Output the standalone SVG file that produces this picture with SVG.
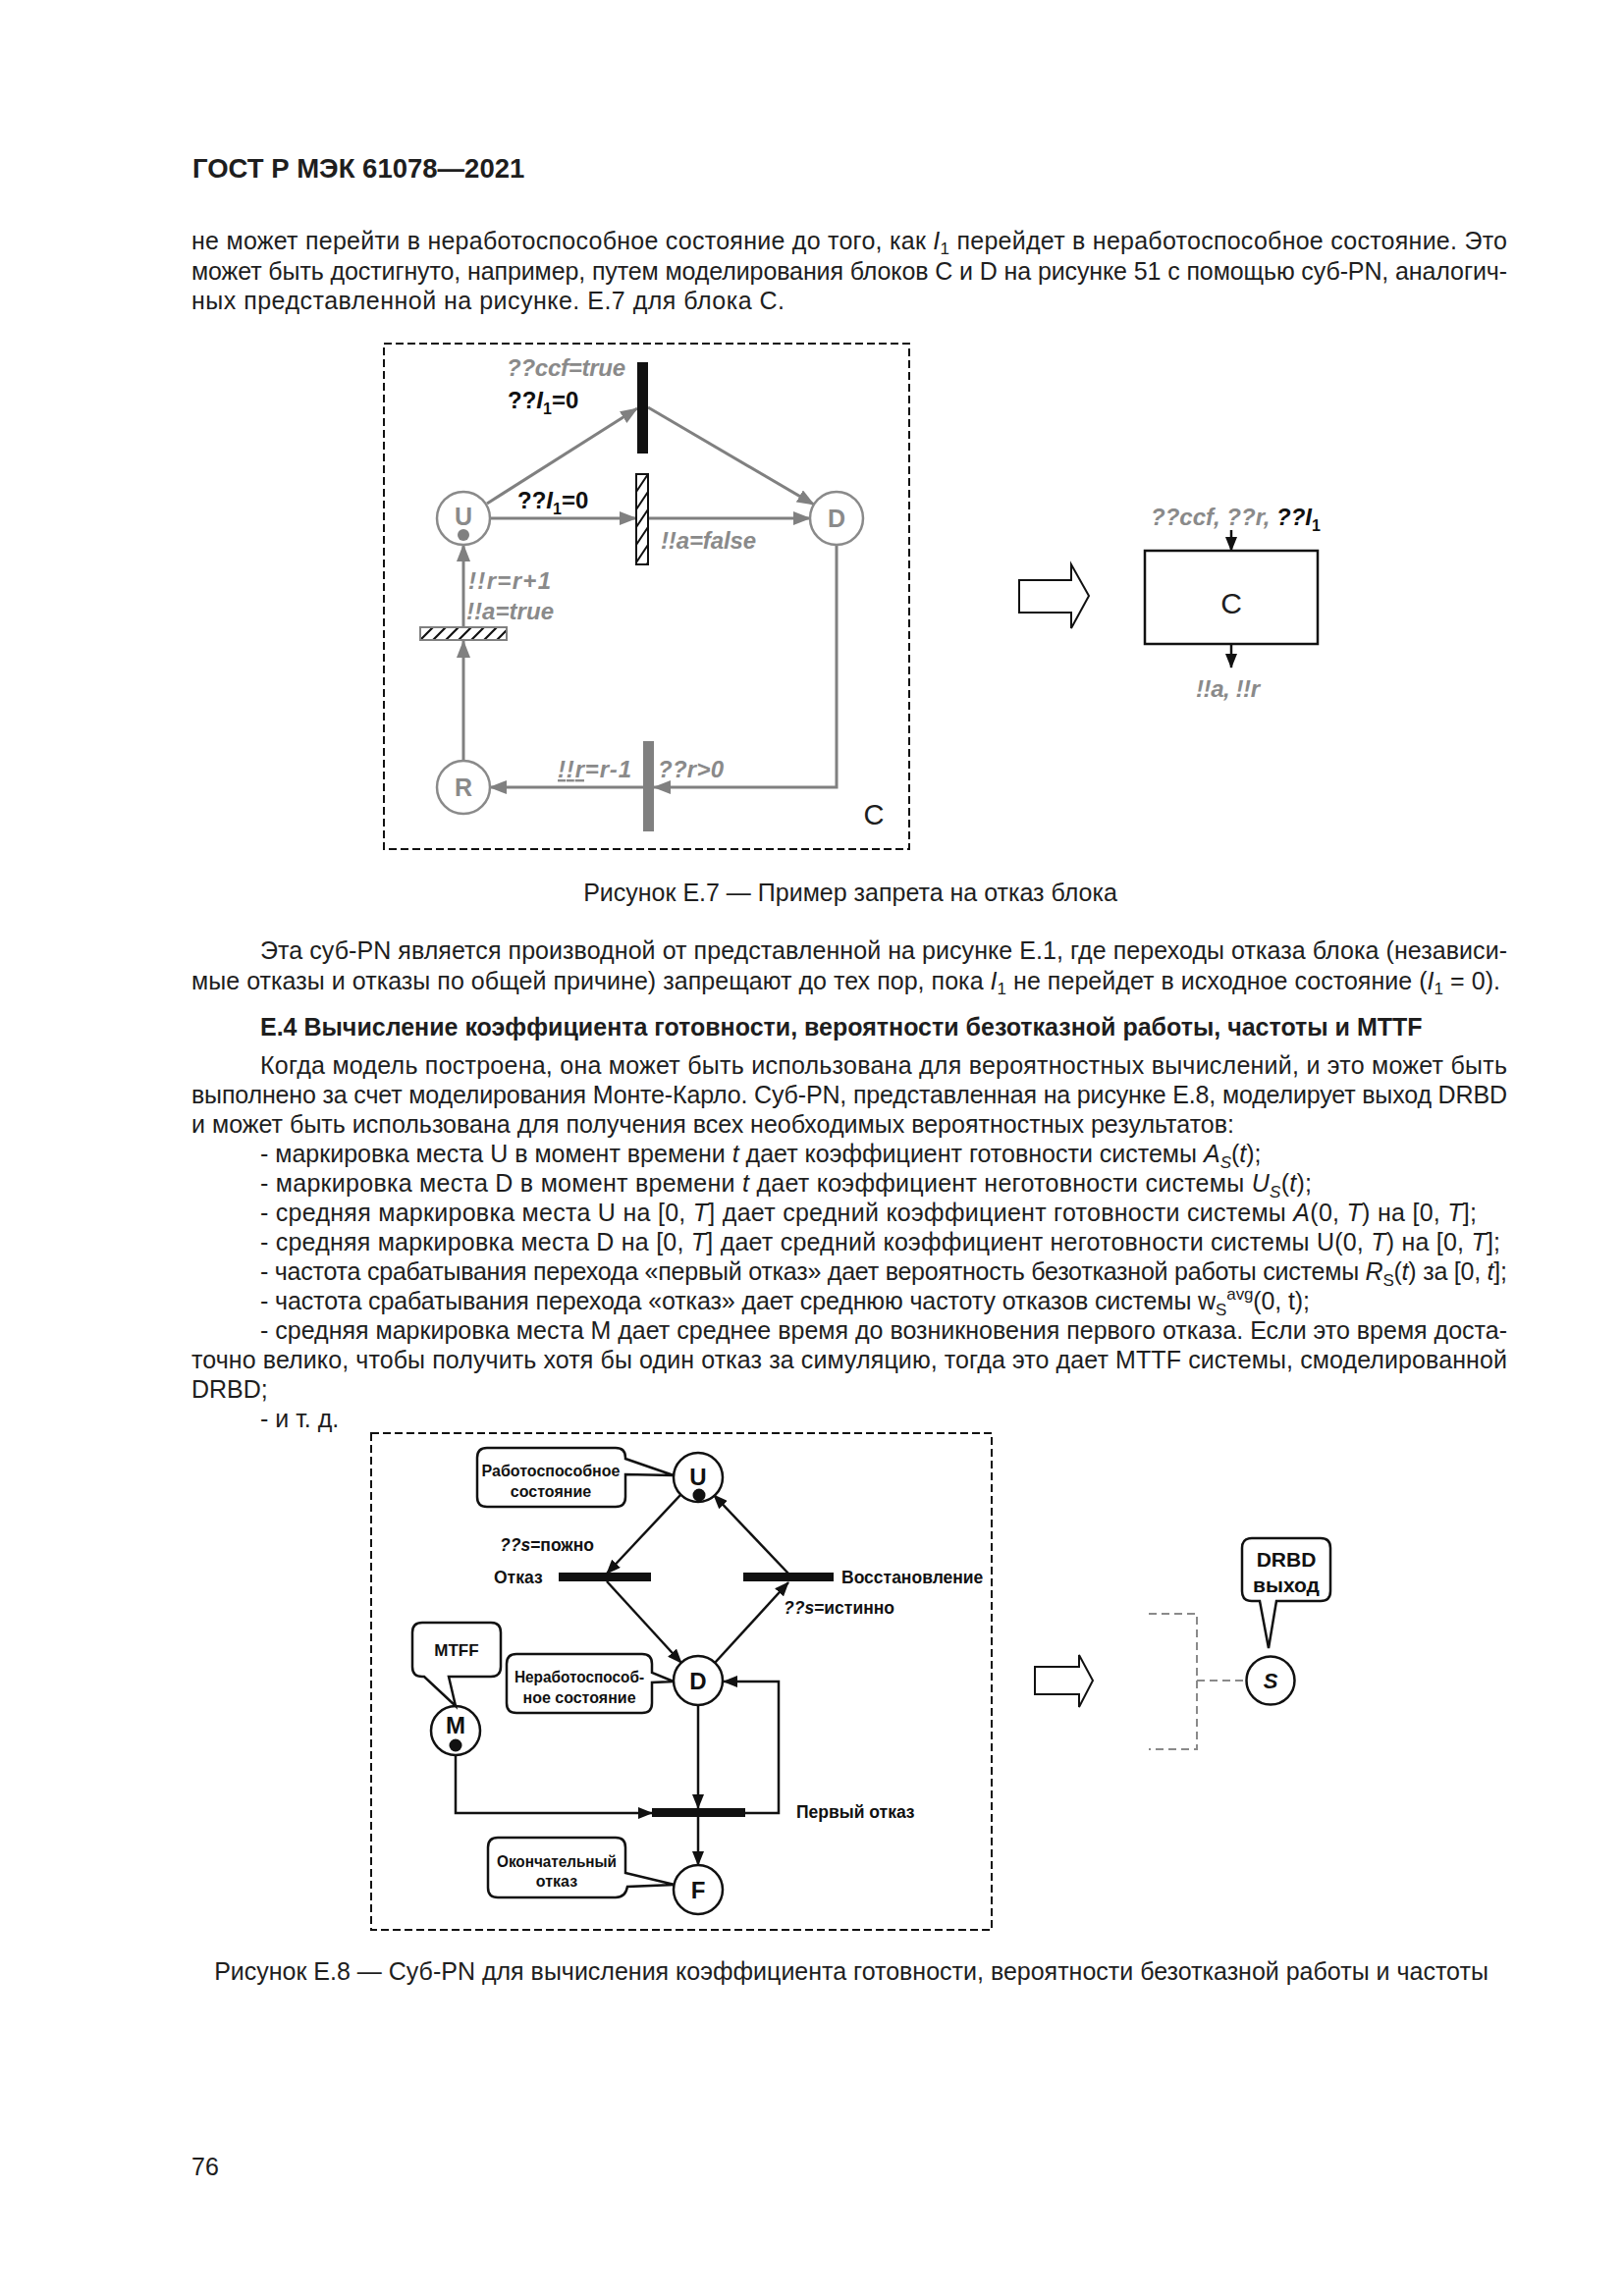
<svg xmlns="http://www.w3.org/2000/svg" width="1654" height="2339" viewBox="0 0 1654 2339">
<style>
.t{font-family:"Liberation Sans",Arial,sans-serif;font-size:25px;fill:#1e1e1e}
.b{font-weight:bold}
.i{font-style:italic}
.gl{font-family:"Liberation Sans",Arial,sans-serif;font-size:24px;font-style:italic;font-weight:bold;fill:#8a8a8a}
.kl{font-family:"Liberation Sans",Arial,sans-serif;font-size:24px;font-weight:bold;fill:#111}
.gs{fill:none;stroke:#808080;stroke-width:3}
.bs{fill:none;stroke:#111;stroke-width:2.5}
.gc{fill:#fff;stroke:#8a8a8a;stroke-width:2.5}
.bc{fill:#fff;stroke:#111;stroke-width:2.5}
.gn{font-family:"Liberation Sans",Arial,sans-serif;font-size:25px;font-weight:bold;fill:#8a8a8a;text-anchor:middle}
.nl{font-family:"Liberation Sans",Arial,sans-serif;font-size:24px;font-weight:bold;fill:#111;text-anchor:middle}
.e8{font-family:"Liberation Sans",Arial,sans-serif;font-size:17.5px;font-weight:bold;fill:#111}
.cl{font-family:"Liberation Sans",Arial,sans-serif;font-size:16px;font-weight:bold;fill:#111;text-anchor:middle}
.dash{fill:none;stroke:#111;stroke-width:2;stroke-dasharray:8 4}
.gdash{fill:none;stroke:#8a8a8a;stroke-width:2;stroke-dasharray:8 5}
</style>
<defs>
<marker id="ag" markerWidth="18" markerHeight="14" refX="17" refY="7" orient="auto" markerUnits="userSpaceOnUse"><path d="M0,0 L18,7 L0,14 z" fill="#808080"/></marker>
<marker id="ab" markerWidth="15" markerHeight="12" refX="14" refY="6" orient="auto" markerUnits="userSpaceOnUse"><path d="M0,0 L15,6 L0,12 z" fill="#111"/></marker>
<pattern id="hv" patternUnits="userSpaceOnUse" x="648" y="483" width="12" height="18"><rect width="12" height="18" fill="#fff"/><path d="M0,18 L12,0 M-2,3 L2,-3 M10,21 L14,15" stroke="#111" stroke-width="2"/></pattern>
<pattern id="hh" patternUnits="userSpaceOnUse" x="428" y="639" width="13" height="13"><rect width="13" height="13" fill="#fff"/><path d="M0,13 L13,0 M-2,2 L2,-2 M11,15 L15,11" stroke="#111" stroke-width="2.2"/></pattern>
</defs>
<rect width="1654" height="2339" fill="#fff"/>

<g id="page-text">
<text class="t b" x="196" y="181" style="font-size:27.5px">ГОСТ Р МЭК 61078—2021</text>
<text class="t" x="195" y="254" textLength="1340" lengthAdjust="spacing">не может перейти в неработоспособное состояние до того, как <tspan class="i">I</tspan><tspan font-size="17" dy="5">1</tspan><tspan dy="-5"> перейдет в неработоспособное состояние. Это</tspan></text>
<text class="t" x="195" y="285" textLength="1340" lengthAdjust="spacing">может быть достигнуто, например, путем моделирования блоков С и D на рисунке 51 с помощью суб-PN, аналогич-</text>
<text class="t" x="195" y="315" textLength="604" lengthAdjust="spacing">ных представленной на рисунке. Е.7 для блока С.</text>
<text class="t" x="866" y="918" text-anchor="middle">Рисунок Е.7 — Пример запрета на отказ блока</text>
<text class="t" x="265" y="977" textLength="1270" lengthAdjust="spacing">Эта суб-PN является производной от представленной на рисунке Е.1, где переходы отказа блока (независи-</text>
<text class="t" x="195" y="1008" textLength="1333" lengthAdjust="spacing">мые отказы и отказы по общей причине) запрещают до тех пор, пока <tspan class="i">I</tspan><tspan font-size="17" dy="5">1</tspan><tspan dy="-5"> не перейдет в исходное состояние (</tspan><tspan class="i">I</tspan><tspan font-size="17" dy="5">1</tspan><tspan dy="-5"> = 0).</tspan></text>
<text class="t b" x="265" y="1055">Е.4 Вычисление коэффициента готовности, вероятности безотказной работы, частоты и MTTF</text>
<text class="t" x="265" y="1094" textLength="1270" lengthAdjust="spacing">Когда модель построена, она может быть использована для вероятностных вычислений, и это может быть</text>
<text class="t" x="195" y="1124" textLength="1340" lengthAdjust="spacing">выполнено за счет моделирования Монте-Карло. Суб-PN, представленная на рисунке Е.8, моделирует выход DRBD</text>
<text class="t" x="195" y="1154" textLength="1062" lengthAdjust="spacing">и может быть использована для получения всех необходимых вероятностных результатов:</text>
<text class="t" x="265" y="1184">- маркировка места U в момент времени <tspan class="i">t</tspan> дает коэффициент готовности системы <tspan class="i">A</tspan><tspan class="i" font-size="17" dy="6">S</tspan><tspan dy="-6">(</tspan><tspan class="i">t</tspan>);</text>
<text class="t" x="265" y="1214" textLength="1071" lengthAdjust="spacing">- маркировка места D в момент времени <tspan class="i">t</tspan> дает коэффициент неготовности системы <tspan class="i">U</tspan><tspan class="i" font-size="17" dy="6">S</tspan><tspan dy="-6">(</tspan><tspan class="i">t</tspan>);</text>
<text class="t" x="265" y="1244" textLength="1239" lengthAdjust="spacing">- средняя маркировка места U на [0, <tspan class="i">T</tspan>] дает средний коэффициент готовности системы <tspan class="i">A</tspan>(0, <tspan class="i">T</tspan>) на [0, <tspan class="i">T</tspan>];</text>
<text class="t" x="265" y="1274" textLength="1263" lengthAdjust="spacing">- средняя маркировка места D на [0, <tspan class="i">T</tspan>] дает средний коэффициент неготовности системы U(0, <tspan class="i">T</tspan>) на [0, <tspan class="i">T</tspan>];</text>
<text class="t" x="265" y="1304" textLength="1270" lengthAdjust="spacing">- частота срабатывания перехода «первый отказ» дает вероятность безотказной работы системы <tspan class="i">R</tspan><tspan font-size="17" dy="6">S</tspan><tspan dy="-6">(</tspan><tspan class="i">t</tspan>) за [0, <tspan class="i">t</tspan>];</text>
<text class="t" x="265" y="1334" textLength="1069" lengthAdjust="spacing">- частота срабатывания перехода «отказ» дает среднюю частоту отказов системы w<tspan font-size="17" dy="6">S</tspan><tspan font-size="17" dy="-16">avg</tspan><tspan dy="10">(0, t);</tspan></text>
<text class="t" x="265" y="1364" textLength="1270" lengthAdjust="spacing">- средняя маркировка места M дает среднее время до возникновения первого отказа. Если это время доста-</text>
<text class="t" x="195" y="1394" textLength="1340" lengthAdjust="spacing">точно велико, чтобы получить хотя бы один отказ за симуляцию, тогда это дает MTTF системы, смоделированной</text>
<text class="t" x="195" y="1424">DRBD;</text>
<text class="t" x="265" y="1454">- и т. д.</text>
<text class="t" x="867" y="2017" text-anchor="middle">Рисунок Е.8 — Суб-PN для вычисления коэффициента готовности, вероятности безотказной работы и частоты</text>
<text class="t" x="195" y="2216">76</text>
</g>

<!-- ===== Figure E.7 ===== -->
<g id="e7-frame">
<rect class="dash" x="391" y="350" width="535" height="515"/>
<text class="t" x="890" y="840" text-anchor="middle" style="font-size:29px">C</text>
</g>
<g id="e7-connectors">
<line class="gs" x1="496" y1="513" x2="649" y2="416" marker-end="url(#ag)"/>
<line class="gs" x1="660" y1="415" x2="829" y2="514" marker-end="url(#ag)"/>
<line class="gs" x1="499" y1="528" x2="648" y2="528" marker-end="url(#ag)"/>
<line class="gs" x1="660" y1="528" x2="825" y2="528" marker-end="url(#ag)"/>
<polyline class="gs" points="852,555 852,802 666,802" marker-end="url(#ag)"/>
<line class="gs" x1="655" y1="802" x2="499" y2="802" marker-end="url(#ag)"/>
<line class="gs" x1="472" y1="775" x2="472" y2="653" marker-end="url(#ag)"/>
<line class="gs" x1="472" y1="639" x2="472" y2="555" marker-end="url(#ag)"/>
</g>
<g id="e7-t-ccf">
<rect x="649" y="369" width="11" height="93" fill="#111"/>
<text class="gl" x="516" y="383" textLength="121" lengthAdjust="spacing">??ccf=true</text>
<text class="kl" x="517" y="416">??<tspan font-style="italic">I</tspan><tspan font-size="16" dy="6">1</tspan><tspan dy="-6">=0</tspan></text>
</g>
<g id="e7-t-ind">
<rect x="648" y="483" width="12" height="92" fill="url(#hv)" stroke="#111" stroke-width="2"/>
<text class="kl" x="527" y="518">??<tspan font-style="italic">I</tspan><tspan font-size="16" dy="6">1</tspan><tspan dy="-6">=0</tspan></text>
<text class="gl" x="673" y="559" textLength="97" lengthAdjust="spacing">!!a=false</text>
</g>
<g id="e7-t-rep">
<rect x="428" y="639" width="88" height="13" fill="url(#hh)" stroke="#808080" stroke-width="2"/>
<text class="gl" x="477" y="600" textLength="84" lengthAdjust="spacing">!!r=r+1</text>
<text class="gl" x="475" y="631" textLength="89" lengthAdjust="spacing">!!a=true</text>
</g>
<g id="e7-t-start">
<rect x="655" y="755" width="11" height="92" fill="#808080"/>
<text class="gl" x="568" y="792" textLength="75" lengthAdjust="spacing" font-weight="normal"><tspan text-decoration="underline">!!r</tspan>=r-1</text>
<text class="gl" x="670" y="792" textLength="67" lengthAdjust="spacing" font-weight="normal">??r&gt;0</text>
</g>
<g id="e7-U">
<circle class="gc" cx="472" cy="528" r="27"/>
<text class="gn" x="472" y="535">U</text>
<circle cx="472" cy="545" r="6" fill="#808080"/>
</g>
<g id="e7-D">
<circle class="gc" cx="852" cy="528" r="27"/>
<text class="gn" x="852" y="537">D</text>
</g>
<g id="e7-R">
<circle class="gc" cx="472" cy="802" r="27"/>
<text class="gn" x="472" y="811">R</text>
</g>
<g id="e7-arrow">
<polygon points="1038,591 1091,591 1091,575 1109,607 1091,640 1091,624 1038,624" fill="#fff" stroke="#111" stroke-width="2"/>
</g>
<g id="e7-block">
<rect x="1166" y="561" width="176" height="95" fill="#fff" stroke="#111" stroke-width="2.5"/>
<text class="t" x="1254" y="625" text-anchor="middle" style="font-size:30px">C</text>
<line class="bs" x1="1254" y1="540" x2="1254" y2="561" marker-end="url(#ab)"/>
<line class="bs" x1="1254" y1="656" x2="1254" y2="680" marker-end="url(#ab)"/>
<text class="gl" x="1172" y="535" font-weight="normal">??ccf, ??r, <tspan font-weight="bold" fill="#111">??I</tspan><tspan font-size="16" dy="6" fill="#111" font-style="normal">1</tspan></text>
<text class="gl" x="1218" y="710" font-weight="normal" textLength="65" lengthAdjust="spacing">!!a, !!r</text>
</g>

<!-- ===== Figure E.8 ===== -->
<g id="e8-frame">
<rect class="dash" x="378" y="1460" width="632" height="506"/>
</g>
<g id="e8-connectors">
<line class="bs" x1="693" y1="1523" x2="618" y2="1603" marker-end="url(#ab)"/>
<line class="bs" x1="618" y1="1611" x2="694" y2="1694" marker-end="url(#ab)"/>
<line class="bs" x1="728" y1="1694" x2="803" y2="1612" marker-end="url(#ab)"/>
<line class="bs" x1="803" y1="1603" x2="727" y2="1523" marker-end="url(#ab)"/>
<line class="bs" x1="711" y1="1737" x2="711" y2="1842" marker-end="url(#ab)"/>
<polyline class="bs" points="464,1788 464,1847 664,1847" marker-end="url(#ab)"/>
<polyline class="bs" points="759,1847 793,1847 793,1713 737,1713" marker-end="url(#ab)"/>
<line class="bs" x1="711" y1="1851" x2="711" y2="1900" marker-end="url(#ab)"/>
</g>
<g id="e8-t-fail">
<rect x="569" y="1602" width="94" height="9" fill="#111"/>
<text class="e8" x="503" y="1613">Отказ</text>
<text class="e8" x="509" y="1580"><tspan font-style="italic">??s</tspan>=пожно</text>
</g>
<g id="e8-t-repair">
<rect x="757" y="1602" width="92" height="9" fill="#111"/>
<text class="e8" x="857" y="1613">Восстановление</text>
<text class="e8" x="798" y="1644"><tspan font-style="italic">??s</tspan>=истинно</text>
</g>
<g id="e8-t-first">
<rect x="664" y="1842" width="95" height="9" fill="#111"/>
<text class="e8" x="811" y="1852">Первый отказ</text>
</g>
<g id="e8-U">
<circle class="bc" cx="711" cy="1505" r="25"/>
<text class="nl" x="711" y="1513">U</text>
<circle cx="712" cy="1523" r="6.5" fill="#111"/>
</g>
<g id="e8-D">
<circle class="bc" cx="711" cy="1712" r="25"/>
<text class="nl" x="711" y="1721">D</text>
</g>
<g id="e8-M">
<circle class="bc" cx="464" cy="1763" r="25"/>
<text class="nl" x="464" y="1766">M</text>
<circle cx="464" cy="1778" r="6.5" fill="#111"/>
</g>
<g id="e8-F">
<circle class="bc" cx="711" cy="1925" r="25"/>
<text class="nl" x="711" y="1934">F</text>
</g>
<g id="e8-note-up">
<path class="bc" d="M496,1475 H627 Q637,1475 637,1485 V1486 L686,1503 L637,1502 V1525 Q637,1535 627,1535 H496 Q486,1535 486,1525 V1485 Q486,1475 496,1475 Z" stroke-width="2"/>
<text class="cl" x="561" y="1504">Работоспособное</text>
<text class="cl" x="561" y="1525">состояние</text>
</g>
<g id="e8-note-down">
<path class="bc" d="M526,1685 H654 Q664,1685 664,1695 V1704 L686,1713 L664,1714 V1735 Q664,1745 654,1745 H526 Q516,1745 516,1735 V1695 Q516,1685 526,1685 Z" stroke-width="2"/>
<text class="cl" x="590" y="1714" textLength="132" lengthAdjust="spacingAndGlyphs">Неработоспособ-</text>
<text class="cl" x="590" y="1735">ное состояние</text>
</g>
<g id="e8-note-mtff">
<path class="bc" d="M430,1653 H500 Q510,1653 510,1663 V1698 Q510,1708 500,1708 H457 L464,1738 L432,1708 H430 Q420,1708 420,1698 V1663 Q420,1653 430,1653 Z" stroke-width="2"/>
<text class="cl" x="465" y="1687" style="font-size:17px">MTFF</text>
</g>
<g id="e8-note-final">
<path class="bc" d="M507,1872 H627 Q637,1872 637,1882 V1908 L687,1920 L639,1922 Q637,1933 627,1933 H507 Q497,1933 497,1923 V1882 Q497,1872 507,1872 Z" stroke-width="2"/>
<text class="cl" x="567" y="1902" textLength="122" lengthAdjust="spacingAndGlyphs">Окончательный</text>
<text class="cl" x="567" y="1922">отказ</text>
</g>
<g id="e8-arrow">
<polygon points="1054,1698 1099,1698 1099,1686 1113,1712 1099,1739 1099,1726 1054,1726" fill="#fff" stroke="#111" stroke-width="2"/>
</g>
<g id="e8-output">
<polyline class="gdash" points="1170,1644 1219,1644 1219,1782 1170,1782"/>
<line class="gdash" x1="1219" y1="1712" x2="1269" y2="1712"/>
<circle class="bc" cx="1294" cy="1712" r="24.5"/>
<text class="nl" x="1294" y="1720" font-style="italic" style="font-size:22px">S</text>
<path class="bc" d="M1275,1567 H1345 Q1355,1567 1355,1577 V1621 Q1355,1631 1345,1631 H1300 L1292,1679 L1283,1631 H1275 Q1265,1631 1265,1621 V1577 Q1265,1567 1275,1567 Z" stroke-width="2"/>
<text class="cl" x="1310" y="1596" style="font-size:21px">DRBD</text>
<text class="cl" x="1310" y="1622" style="font-size:21px">выход</text>
</g>
</svg>
